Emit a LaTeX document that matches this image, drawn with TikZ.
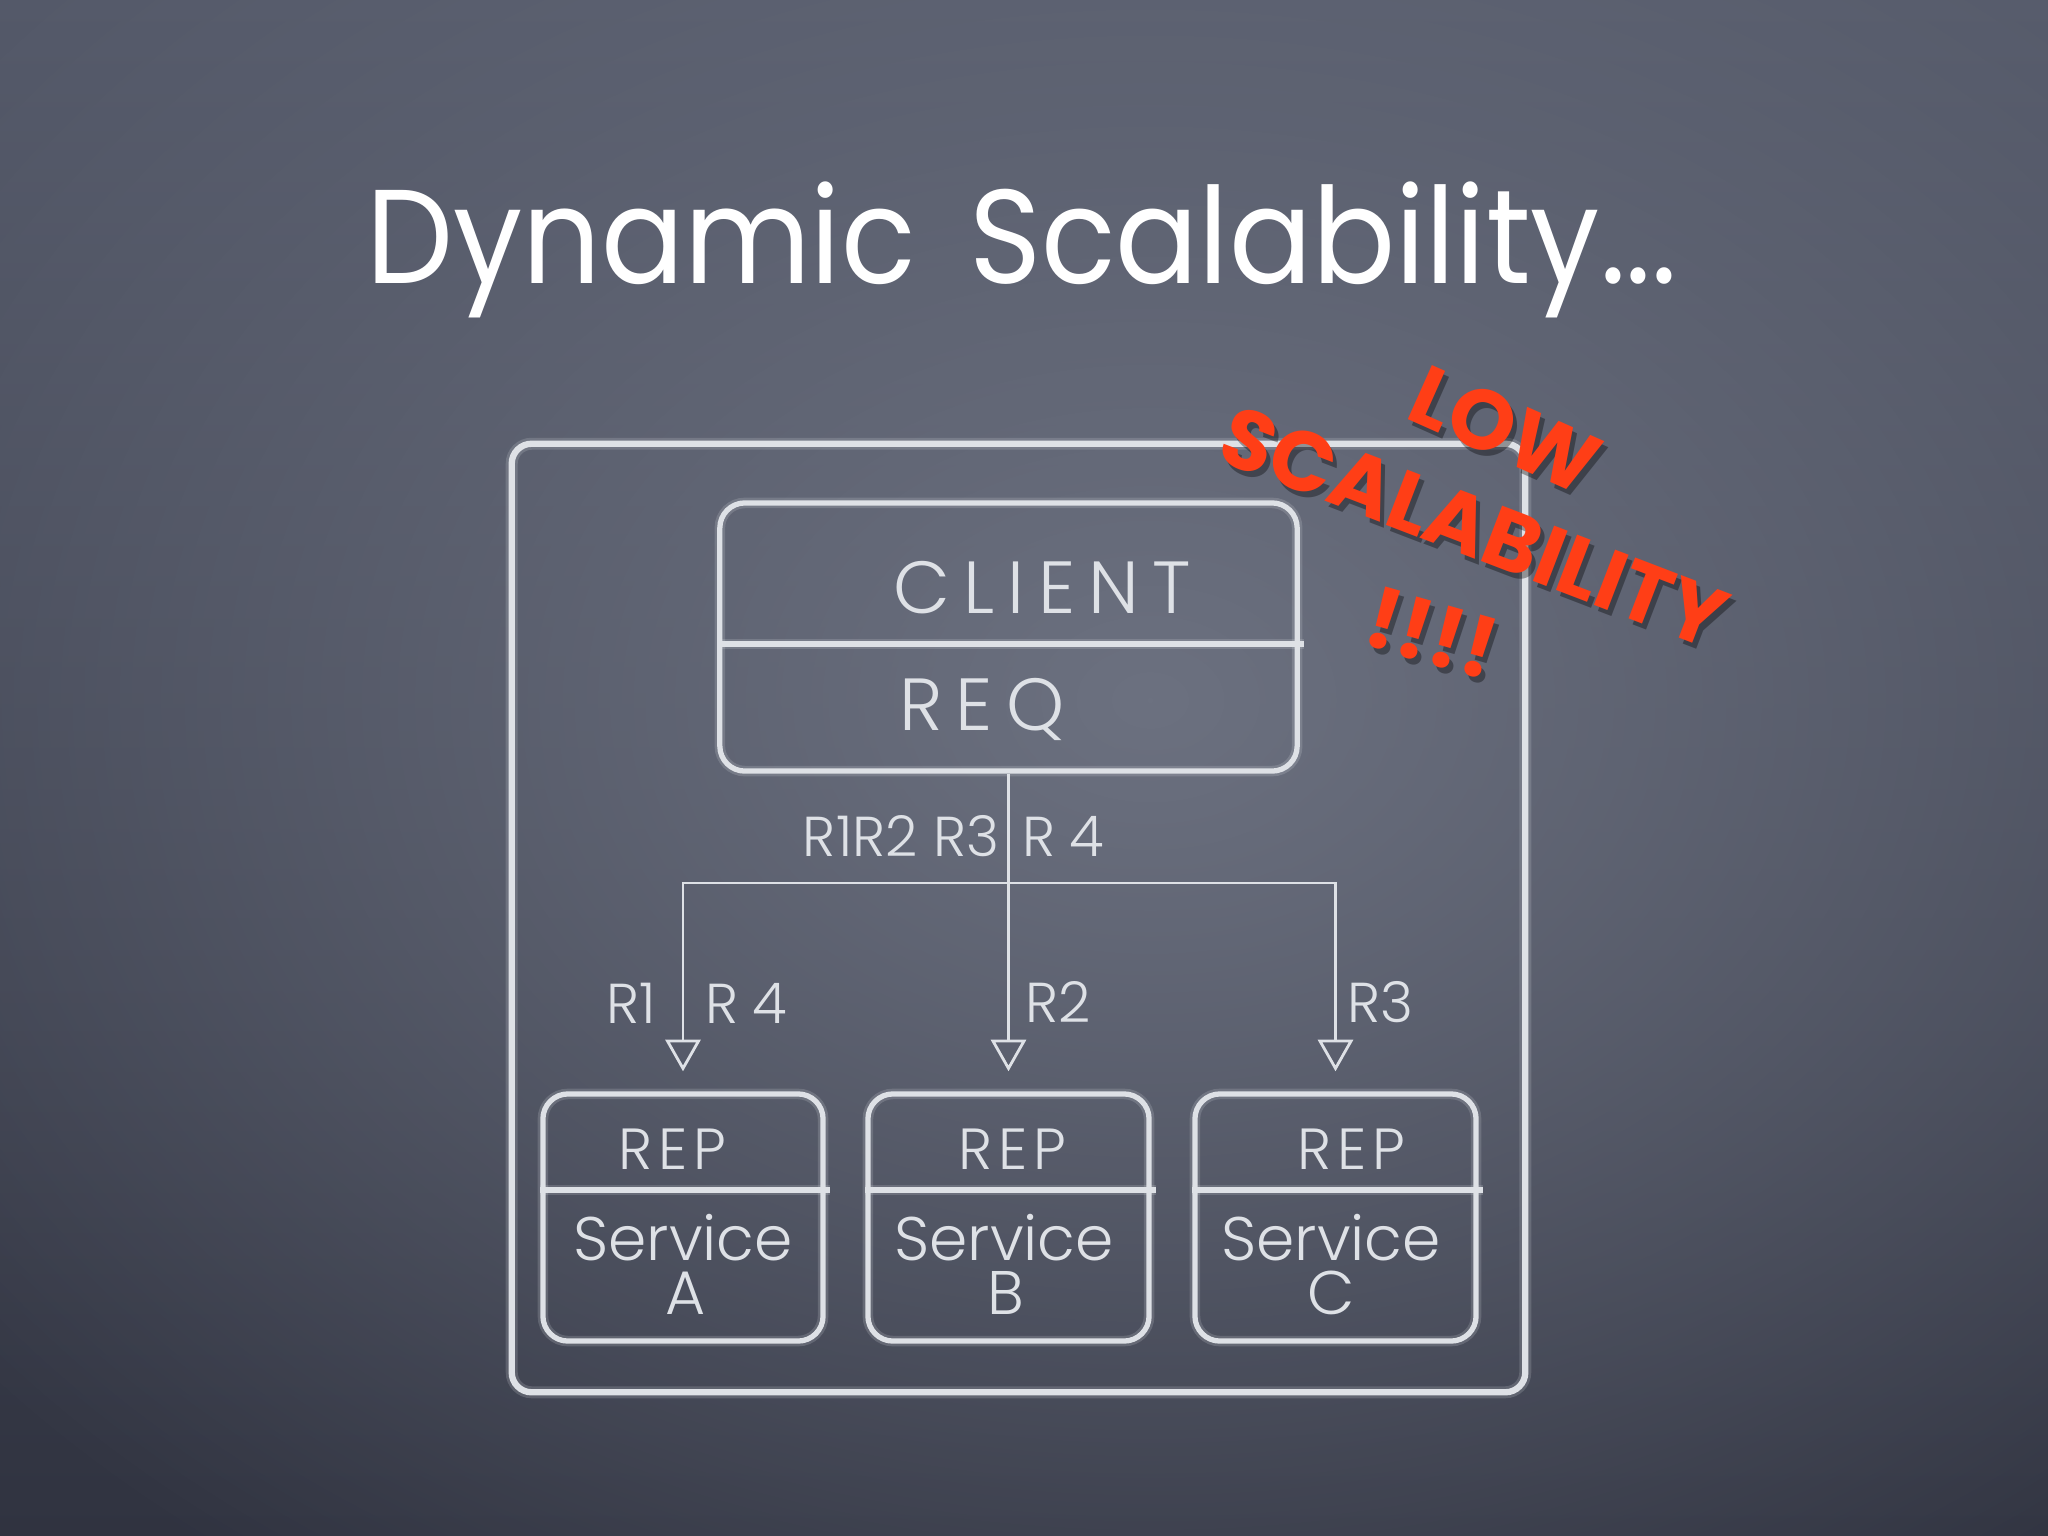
\documentclass[tikz,border=0pt]{standalone}
\usepackage{fontspec}
\usetikzlibrary{arrows.meta,calc,fadings}
\newfontfamily\titlefont[FakeStretch=0.92]{Poppins}
\newfontfamily\redfont{Poppins Bold}
\newfontfamily\hand{Poppins Light}
\newfontfamily\handwide[LetterSpace=18]{Poppins Light}
\newfontfamily\handrep[LetterSpace=10]{Poppins Light}
\definecolor{boardtop}{RGB}{84,89,105}
\definecolor{boardbot}{RGB}{48,51,64}
\definecolor{boardglow}{RGB}{108,113,128}
\definecolor{chalk}{RGB}{222,225,230}
\definecolor{redchalk}{RGB}{255,62,22}
\tikzfading[name=glowfade, inner color=transparent!0, outer color=transparent!100]
\begin{document}
\begin{tikzpicture}[x=0.01cm,y=-0.01cm,
  box/.style={draw=chalk, line width=1.5pt, rounded corners=0.25cm, inner sep=0pt,
    preaction={draw=chalk, line width=3pt, draw opacity=0.18}},
  outerbox/.style={draw=chalk, line width=1.8pt, rounded corners=0.2cm, inner sep=0pt,
    preaction={draw=chalk, line width=3.4pt, draw opacity=0.18}},
  divider/.style={draw=chalk, line width=1.5pt, preaction={draw=chalk, line width=3pt, draw opacity=0.18}},
  wire/.style={draw=chalk, line width=0.8pt},
  arr/.style={wire, -{Triangle[open, length=9pt, width=10pt, line width=0.8pt]}, shorten >=0.2cm},
  lbl/.style={text=chalk, font=\hand\fontsize{16}{18}\selectfont, inner sep=0pt},
  svc/.style={text=chalk, font=\hand\fontsize{17.5}{20}\selectfont, inner sep=0pt},
  rep/.style={text=chalk, font=\handrep\fontsize{16.5}{18}\selectfont, inner sep=0pt},
  big/.style={text=chalk, font=\handwide\fontsize{21}{24}\selectfont, inner sep=0pt},
  redtxt/.style={text=redchalk, font=\redfont\fontsize{24}{26}\selectfont, inner sep=0pt},
  redshadow/.style={text=black, opacity=0.35, font=\redfont\fontsize{24}{26}\selectfont, inner sep=0pt}
]
\useasboundingbox (0,0) rectangle (2048,1536);
\shade[top color=boardtop, bottom color=boardbot] (0,0) rectangle (2048,1536);
\begin{scope}
\clip (0,0) rectangle (2048,1536);
\fill[boardglow, path fading=glowfade] (-350,-400) rectangle (2650,1800);
\end{scope}

\node[anchor=base, text=white, font=\titlefont\fontsize{38}{40}\selectfont, inner sep=0pt] (title) at (1022,283) {Dynamic\hspace{0.4em}Scalability...};

\node[outerbox, minimum width=10.13cm, minimum height=9.48cm] (outer) at (1018.5,918) {};

\node[box, minimum width=5.77cm, minimum height=2.68cm] (client) at (1008.5,637) {};
\draw[divider] (client.west |- 0,644) -- ++(587,0);
\node[big] (clienttxt) at (1042,588) {CLIENT};
\node[big] (reqtxt) at (982,709) {REQ};

\node[box, minimum width=2.8cm, minimum height=2.47cm] (svcA) at (683,1217.5) {};
\node[box, minimum width=2.81cm, minimum height=2.47cm] (svcB) at (1008.5,1217.5) {};
\node[box, minimum width=2.81cm, minimum height=2.47cm] (svcC) at (1335.5,1217.5) {};
\draw[divider] (svcA.west |- 0,1190) -- ++(290,0);
\draw[divider] (svcB.west |- 0,1190) -- ++(291,0);
\draw[divider] (svcC.west |- 0,1190) -- ++(291,0);

\node[rep] (repA) at (672,1149) {REP};
\node[rep] (repB) at (1012,1149) {REP};
\node[rep] (repC) at (1351,1149) {REP};
\node[svc] (servA) at (683,1238) {Service};
\node[svc] (servB) at (1004,1238) {Service};
\node[svc] (servC) at (1331,1238) {Service};
\node[svc] (nameA) at (686,1293) {A};
\node[svc] (nameB) at (1006,1293) {B};
\node[svc] (nameC) at (1331,1293) {C};

\coordinate (split) at (1008.5,883);
\draw[arr] (client.south) -- (svcB.north);
\draw[arr] (split) -| (svcA.north);
\draw[arr] (split) -| (svcC.north);

\node[lbl] (lreq) at (901,836) {R1R2 R3};
\node[lbl] (lreq4) at (1063,836) {R\hspace{0.25em}4};
\node[lbl] (la1) at (631,1003) {R1};
\node[lbl] (la4) at (746,1003) {R\hspace{0.25em}4};
\node[lbl] (lb2) at (1058,1002) {R2};
\node[lbl] (lc3) at (1380,1002) {R3};

\node[redshadow, rotate=-24] at (1509,436) {LOW};
\node[redshadow, rotate=-21] at (1478,533) {SCALABILITY};
\node[redshadow, rotate=-16] at (1436,639) {!!!!};
\node[redtxt, rotate=-24] (low) at (1505,430) {LOW};
\node[redtxt, rotate=-21] (scal) at (1474,527) {SCALABILITY};
\node[redtxt, rotate=-16] (bang) at (1432,633) {!!!!};
\end{tikzpicture}
\end{document}
